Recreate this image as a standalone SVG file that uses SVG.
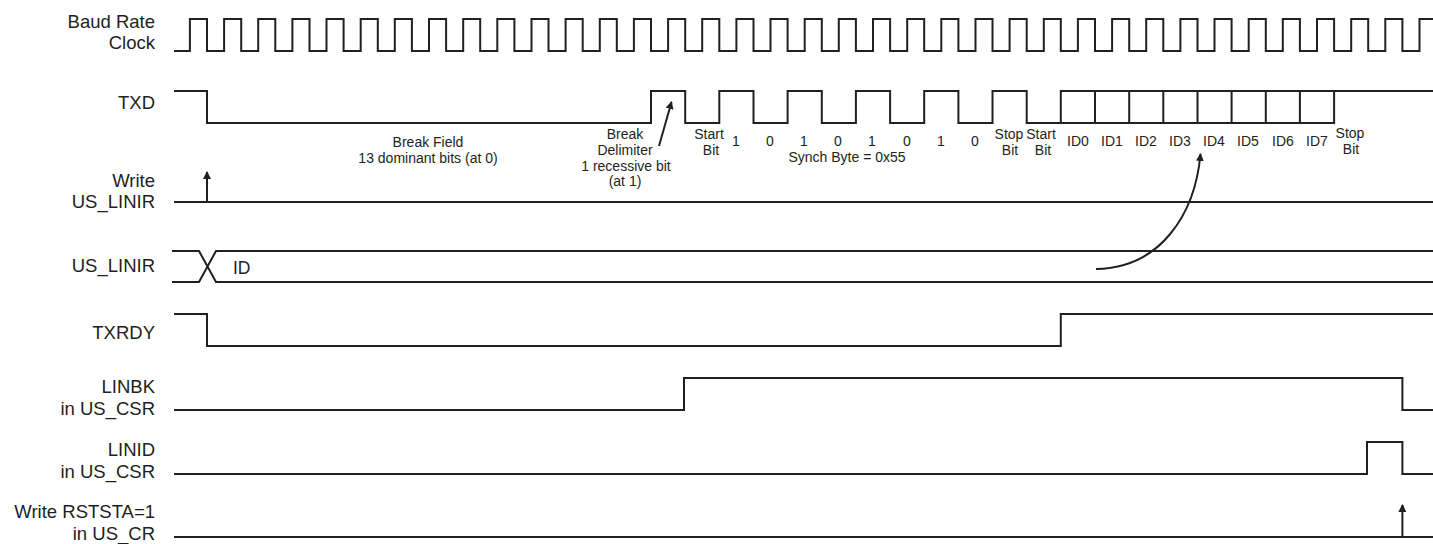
<svg xmlns="http://www.w3.org/2000/svg" width="1433" height="544" viewBox="0 0 1433 544">
<style>
.lbl{font-family:"Liberation Sans",Arial,sans-serif;font-size:18.5px;fill:#231f20;text-anchor:end}
.ann{font-family:"Liberation Sans",Arial,sans-serif;font-size:14px;fill:#231f20;text-anchor:middle}
.sig{fill:none;stroke:#231f20;stroke-width:2}
.arr{fill:none;stroke:#231f20;stroke-width:2;marker-end:url(#ah)}
</style>
<defs>
<marker id="ah" viewBox="0 0 8 8" refX="7" refY="4" markerWidth="8" markerHeight="8" markerUnits="userSpaceOnUse" orient="auto"><path d="M0,0 L8,4 L0,8 z" fill="#231f20"/></marker>
</defs>
<rect width="1433" height="544" fill="#ffffff"/>

<g id="clock">
<text class="lbl" x="155" y="28">Baud Rate</text>
<text class="lbl" x="155" y="49">Clock</text>
<path class="sig" d="M174,51 H189.9 V19 H207 V51 H224.1 V19 H241.2 V51 H258.2 V19 H275.3 V51 H292.4 V19 H309.5 V51 H326.5 V19 H343.6 V51 H360.7 V19 H377.8 V51 H394.8 V19 H411.9 V51 H429 V19 H446.1 V51 H463.2 V19 H480.2 V51 H497.3 V19 H514.4 V51 H531.5 V19 H548.5 V51 H565.6 V19 H582.7 V51 H599.8 V19 H616.8 V51 H633.9 V19 H651 V51 H668.1 V19 H685.2 V51 H702.2 V19 H719.3 V51 H736.4 V19 H753.5 V51 H770.5 V19 H787.6 V51 H804.7 V19 H821.8 V51 H838.8 V19 H855.9 V51 H873 V19 H890.1 V51 H907.2 V19 H924.2 V51 H941.3 V19 H958.4 V51 H975.5 V19 H992.5 V51 H1009.6 V19 H1026.7 V51 H1043.8 V19 H1060.8 V51 H1077.9 V19 H1095 V51 H1112.1 V19 H1129.2 V51 H1146.2 V19 H1163.3 V51 H1180.4 V19 H1197.5 V51 H1214.5 V19 H1231.6 V51 H1248.7 V19 H1265.8 V51 H1282.8 V19 H1299.9 V51 H1317 V19 H1334.1 V51 H1351.2 V19 H1368.2 V51 H1385.3 V19 H1402.4 V51 H1419.5 V19 H1434"/>
</g>

<g id="txd">
<text class="lbl" x="155" y="109">TXD</text>
<path class="sig" d="M174,91 H207 V123 H651 V91 H685.2 V123 H719.3 V91 H753.5 V123 H787.6 V91 H821.8 V123 H855.9 V91 H890.1 V123 H924.2 V91 H958.4 V123 H992.5 V91 H1026.7 V123 H1060.8 V91 H1434"/>
<path class="sig" d="M1060.8,123 H1334.1 V91 M1095,91 V123 M1129.2,91 V123 M1163.3,91 V123 M1197.5,91 V123 M1231.6,91 V123 M1265.8,91 V123 M1299.9,91 V123"/>
<text class="ann" x="428" y="147">Break Field</text>
<text class="ann" x="428" y="163">13 dominant bits (at 0)</text>
<text class="ann" x="625" y="139">Break</text>
<text class="ann" x="625" y="155">Delimiter</text>
<text class="ann" x="626" y="171">1 recessive bit</text>
<text class="ann" x="625" y="186">(at 1)</text>
<text class="ann" x="709" y="139">Start</text>
<text class="ann" x="711" y="155">Bit</text>
<text class="ann" x="736" y="146">1</text>
<text class="ann" x="770" y="146">0</text>
<text class="ann" x="804" y="146">1</text>
<text class="ann" x="838" y="146">0</text>
<text class="ann" x="872" y="146">1</text>
<text class="ann" x="907" y="146">0</text>
<text class="ann" x="941" y="146">1</text>
<text class="ann" x="975" y="146">0</text>
<text class="ann" x="847" y="162">Synch Byte = 0x55</text>
<text class="ann" x="1009" y="139">Stop</text>
<text class="ann" x="1010" y="155">Bit</text>
<text class="ann" x="1041" y="139">Start</text>
<text class="ann" x="1043" y="155">Bit</text>
<text class="ann" x="1078" y="146">ID0</text>
<text class="ann" x="1112" y="146">ID1</text>
<text class="ann" x="1146" y="146">ID2</text>
<text class="ann" x="1180" y="146">ID3</text>
<text class="ann" x="1214" y="146">ID4</text>
<text class="ann" x="1248" y="146">ID5</text>
<text class="ann" x="1283" y="146">ID6</text>
<text class="ann" x="1317" y="146">ID7</text>
<text class="ann" x="1350" y="138">Stop</text>
<text class="ann" x="1351" y="154">Bit</text>
</g>

<g id="write-us-linir">
<text class="lbl" x="155" y="187">Write</text>
<text class="lbl" x="155" y="208">US_LINIR</text>
<path class="sig" d="M174,202 H1434"/>
</g>

<g id="us-linir">
<text class="lbl" x="155" y="272">US_LINIR</text>
<path class="sig" d="M172,251 H199 L216,282 H1434 M172,282 H199 L216,251 H1434"/>
<text class="lbl" x="233" y="274" style="text-anchor:start;font-size:17.5px">ID</text>
</g>

<g id="txrdy">
<text class="lbl" x="155" y="339">TXRDY</text>
<path class="sig" d="M174,314 H207 V346 H1060.8 V314 H1434"/>
</g>

<g id="linbk">
<text class="lbl" x="155" y="393">LINBK</text>
<text class="lbl" x="155" y="415">in US_CSR</text>
<path class="sig" d="M174,410 H684 V378 H1402.4 V410 H1434"/>
</g>

<g id="linid">
<text class="lbl" x="155" y="456">LINID</text>
<text class="lbl" x="155" y="478">in US_CSR</text>
<path class="sig" d="M174,474 H1367 V442 H1402.4 V474 H1434"/>
</g>

<g id="write-rststa">
<text class="lbl" x="155" y="518">Write RSTSTA=1</text>
<text class="lbl" x="155" y="540">in US_CR</text>
<path class="sig" d="M174,537 H1434"/>
</g>

<g id="connectors">
<path class="arr" d="M207,202 V172"/>
<path class="arr" d="M659,146 L671.5,102"/>
<path class="arr" d="M1096,269 C1160,268 1195,215 1200.5,154"/>
<path class="arr" d="M1402.4,537 V505"/>
</g>
</svg>
